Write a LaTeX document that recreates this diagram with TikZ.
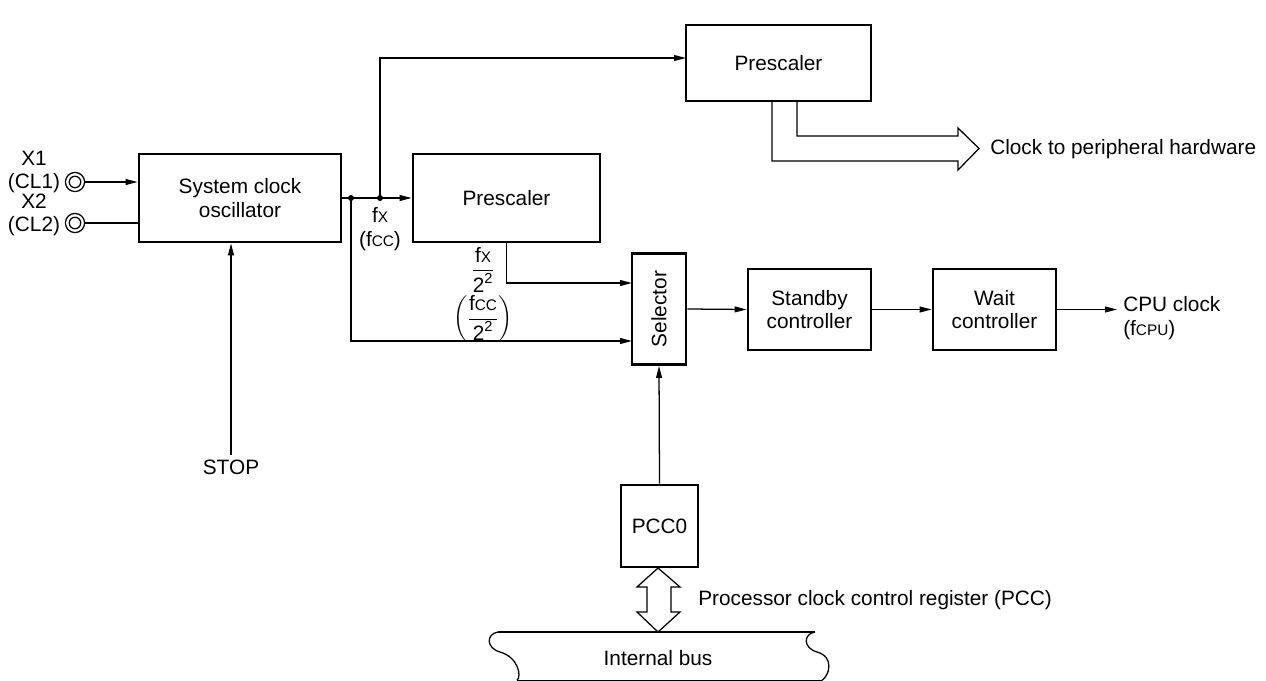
\documentclass[tikz,border=0pt]{standalone}
\usepackage{amsmath}
\usepackage{fontspec}
\setmainfont{Liberation Sans}
\usetikzlibrary{arrows.meta}

\newcommand{\fsub}[1]{f{\fontsize{11.5}{12}\selectfont #1}}

\begin{document}
\begin{tikzpicture}[x=0.75pt,y=-0.75pt,
  font=\fontsize{15.6}{17.5}\selectfont,
  block/.style={draw,line width=2.1pt,inner sep=0pt,align=center},
  wire/.style={line width=0.95pt},
  sig/.style={wire,-{Triangle[length=9pt,width=4.4pt]}},
  dot/.style={fill,circle,inner sep=0pt,minimum size=4.5pt},
  lbl/.style={inner sep=0pt,align=center}]
\useasboundingbox (0,0) rectangle (1266,681);

% blocks
\node[block,minimum width=151.5pt,minimum height=66pt] (osc) at (240,198) {System clock\\oscillator};
\node[block,minimum width=138.75pt,minimum height=57pt] (pt) at (778.5,63) {Prescaler};
\node[block,minimum width=140.25pt,minimum height=66pt] (pm) at (506.5,198) {Prescaler};
\node[block,minimum width=40.5pt,minimum height=83.25pt] (sel) at (659,309) {\rotatebox{90}{Selector}};
\node[block,minimum width=92.25pt,minimum height=60.75pt] (sb) at (809.5,309.5) {Standby\\controller};
\node[block,minimum width=92.25pt,minimum height=60.75pt] (wt) at (994.5,309.5) {Wait\\controller};
\node[block,minimum width=57.75pt,minimum height=61.5pt] (pcc) at (659.5,526) {PCC0};

% input pins
\coordinate (x1) at (75,182);
\coordinate (x2) at (75,223);
\foreach \p in {x1,x2} {
  \draw[wire] (\p) circle[radius=7.2pt];
  \draw[wire] (\p) circle[radius=4.3pt];
}
\node[lbl] (x1l) at (34,172) {X1\\(CL1)};
\node[lbl] (x2l) at (34,215) {X2\\(CL2)};
\coordinate (x1e) at (84.6,182);
\coordinate (x2e) at (84.6,223);
\draw[sig] (x1e) -- (osc.west |- x1e);
\draw[wire] (x2e) -- (osc.west |- x2e);

% STOP
\node[lbl] (stop) at (231,467) {STOP};
\coordinate (stopt) at (231,455);
\draw[sig] (stopt) -- (osc.south -| stopt);

% fx distribution
\coordinate (j1) at (351,198);
\coordinate (j2) at (380,198);
\node[dot] at (j1) {};
\node[dot] at (j2) {};
\draw[sig] (osc.east) -- (pm.west);
\coordinate (t1) at (686,58);
\draw[sig] (j2) |- (t1);
\node[lbl] (fxl) at (380,229) {\fsub{X}\\(\fsub{CC})};

% selector inputs
\coordinate (s1) at (632,283);
\coordinate (s2) at (632,341);
\draw[sig] (pm.south) |- (s1);
\draw[sig] (j1) |- (s2);
\node[lbl] (fr1) at (483,270) {$\dfrac{\text{\fsub{X}}}{\text{2}^{\text{2}}}$};
\node[lbl] (fr2) at (483,319) {$\left(\dfrac{\text{\fsub{CC}}}{\text{2}^{\text{2}}}\right)$};

% main chain
\draw[sig] (sel.east) -- (sb.west);
\draw[sig] (sb.east) -- (wt.west);
\coordinate (cpu) at (1117,309.5);
\draw[sig] (wt.east) -- (cpu);
\node[lbl,anchor=west,align=left] (cpul) at (1123,318) {CPU clock\\(\fsub{CPU})};

\draw[sig] (pcc.north) -- (sel.south);

% peripheral clock bus arrow
\draw[wire,line join=miter] (772,101) -- (772,161) -- (958,161) -- (958,170) -- (979,148.5)
  -- (958,128) -- (958,136) -- (797,136) -- (797,101);
\node[lbl,anchor=west] (perl) at (990,149) {Clock to peripheral hardware};

% PCC double arrow
\draw[wire,line join=miter] (658,568) -- (680,587) -- (671,587) -- (671,612) -- (680,612)
  -- (658,632) -- (637,612) -- (647,612) -- (647,587) -- (637,587) -- cycle;
\node[lbl,anchor=west] (pccl) at (698,600) {Processor clock control register (PCC)};

% internal bus
\draw[wire] (498,632) -- (815,632);
\draw[wire] (517,680.3) -- (822,680.3);
\draw[wire] (498,632) .. controls (486,634) and (486,648) .. (500,652)
  .. controls (518,657) and (522,676) .. (517,680.3);
\draw[wire] (815,632) .. controls (803,634) and (803,648) .. (817,652)
  .. controls (835,657) and (829,676) .. (822,680.3);
\node[lbl] (bus) at (658,658) {Internal bus};
\end{tikzpicture}
\end{document}
